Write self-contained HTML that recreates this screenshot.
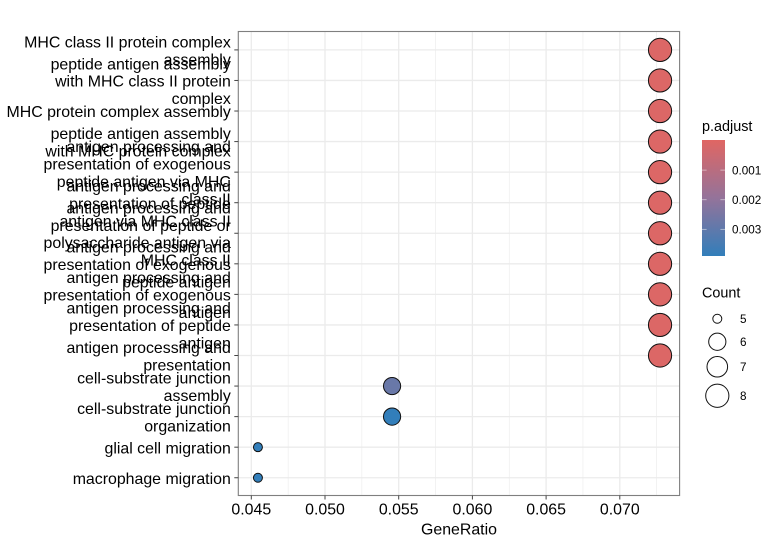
<!DOCTYPE html>
<html>
<head>
<meta charset="utf-8">
<style>
html,body{margin:0;padding:0;background:#fff;width:778px;height:546px;overflow:hidden}
svg{display:block}
text{font-family:"Liberation Sans",sans-serif;fill:#000}
</style>
</head>
<body>
<svg id="chart" xmlns="http://www.w3.org/2000/svg" width="778" height="546" viewBox="0 0 778 546">
<defs>
<linearGradient id="pgrad" x1="0" y1="0" x2="0" y2="1">
<stop offset="0" stop-color="#E06663"/>
<stop offset="0.5" stop-color="#94739A"/>
<stop offset="1" stop-color="#327EBA"/>
</linearGradient>
</defs>
</svg>
<script>
const categories = [
  ["MHC class II protein complex","assembly"],
  ["peptide antigen assembly","with MHC class II protein","complex"],
  ["MHC protein complex assembly"],
  ["peptide antigen assembly","with MHC protein complex"],
  ["antigen processing and","presentation of exogenous","peptide antigen via MHC","class II"],
  ["antigen processing and","presentation of peptide","antigen via MHC class II"],
  ["antigen processing and","presentation of peptide or","polysaccharide antigen via","MHC class II"],
  ["antigen processing and","presentation of exogenous","peptide antigen"],
  ["antigen processing and","presentation of exogenous","antigen"],
  ["antigen processing and","presentation of peptide","antigen"],
  ["antigen processing and","presentation"],
  ["cell-substrate junction","assembly"],
  ["cell-substrate junction","organization"],
  ["glial cell migration"],
  ["macrophage migration"]
];
const geneRatio = [0.07273,0.07273,0.07273,0.07273,0.07273,0.07273,0.07273,0.07273,0.07273,0.07273,0.07273,0.05455,0.05455,0.04545,0.04545];
const counts = [8,8,8,8,8,8,8,8,8,8,8,6,6,5,5];
const pAdjust = [0.0001,0.0001,0.0001,0.0001,0.0001,0.0001,0.0001,0.0001,0.0001,0.0001,0.0001,0.0028,0.0039,0.0039,0.0039];
const xTicks = [0.045,0.050,0.055,0.060,0.065,0.070];
const xMinorTicks = [0.0475,0.0525,0.0575,0.0625,0.0675,0.0725];
const xTickLabels = ["0.045","0.050","0.055","0.060","0.065","0.070"];
const colorTicks = [0.001,0.002,0.003];
const colorTickLabels = ["0.001","0.002","0.003"];
const sizeLegendCounts = [5,6,7,8];

const NS = "http://www.w3.org/2000/svg";
const svg = document.getElementById("chart");
const panel = {l:238.3, r:679.6, t:31.5, b:495.5};

function xScale(v){ return 251.3 + (v - 0.045) * 14740; }
function yScale(i){ return 49.9 + i * 30.56; }
function rScale(c){ return 4.9 + 7.1 * Math.sqrt((c - 5) / 3); }
function colorBarY(p){ return 140.5 + (p / 0.0039) * 115.5; }
function mix(a,b,t){ return a.map(function(v,i){ return Math.round(v + (b[i]-v)*t); }); }
function colorScale(p){
  const t = Math.min(1, Math.max(0, p / 0.0039));
  const low = [224,102,99], mid = [148,115,154], high = [50,126,186];
  const c = t < 0.5 ? mix(low, mid, t*2) : mix(mid, high, (t-0.5)*2);
  return "rgb(" + c.join(",") + ")";
}
function make(tag, attrs){
  const el = document.createElementNS(NS, tag);
  for (const k in attrs) el.setAttribute(k, attrs[k]);
  svg.appendChild(el);
  return el;
}

let el;
el = make("rect",{x:panel.l,y:panel.t,width:panel.r-panel.l,height:panel.b-panel.t,fill:"#fff"});



xMinorTicks.forEach(function(v){
  const g = make("line",{x1:xScale(v),x2:xScale(v),y1:panel.t,y2:panel.b,stroke:"#EDEDED","stroke-width":0.7});
  
  
});
xTicks.forEach(function(v){
  const g = make("line",{x1:xScale(v),x2:xScale(v),y1:panel.t,y2:panel.b,stroke:"#EBEBEB","stroke-width":1.3});
  
  
});
categories.forEach(function(c,i){
  const g = make("line",{x1:panel.l,x2:panel.r,y1:yScale(i),y2:yScale(i),stroke:"#EBEBEB","stroke-width":1.3});
  
  
});

categories.forEach(function(c,i){
  const p = make("circle",{cx:xScale(geneRatio[i]),cy:yScale(i),r:rScale(counts[i])-0.4,fill:colorScale(pAdjust[i]),stroke:"#111","stroke-width":1});
  
  
});

el = make("rect",{x:panel.l,y:panel.t,width:panel.r-panel.l,height:panel.b-panel.t,fill:"none",stroke:"#7F7F7F","stroke-width":1.1});



const lineHeight = 17.4;
categories.forEach(function(lines,i){
  const tick = make("line",{x1:panel.l-4,x2:panel.l,y1:yScale(i),y2:yScale(i),stroke:"#444","stroke-width":1});
  
  
  const t = make("text",{"font-size":15.9,"text-anchor":"end"});
  
  
  const y0 = yScale(i) + 6.2 - (lines.length-1) * lineHeight / 2;
  lines.forEach(function(line,j){
    const s = document.createElementNS(NS,"tspan");
    s.setAttribute("x",230.8);
    s.setAttribute("y",y0 + j*lineHeight);
    s.textContent = line;
    t.appendChild(s);
  });
});

xTicks.forEach(function(v,i){
  const tick = make("line",{x1:xScale(v),x2:xScale(v),y1:panel.b,y2:panel.b+4,stroke:"#444","stroke-width":1});
  
  
  const t = make("text",{x:xScale(v),y:514.5,"font-size":15.9,"text-anchor":"middle"});
  
  
  t.textContent = xTickLabels[i];
});

el = make("text",{x:459,y:534.5,"font-size":15.9,"text-anchor":"middle"});


el.textContent = "GeneRatio";

el = make("text",{x:702,y:130.8,"font-size":14.4});


el.textContent = "p.adjust";

el = make("rect",{x:702,y:140,width:23,height:116,fill:"url(#pgrad)"});



colorTicks.forEach(function(v,i){
  const y = colorBarY(v);
  const a = make("line",{x1:702,x2:706.6,y1:y,y2:y,stroke:"#fff","stroke-opacity":0.6,"stroke-width":0.8});
  
  
  const b = make("line",{x1:720.4,x2:725,y1:y,y2:y,stroke:"#fff","stroke-opacity":0.6,"stroke-width":0.8});
  
  
  const t = make("text",{x:732,y:y+4.2,"font-size":11.7});
  
  
  t.textContent = colorTickLabels[i];
});

el = make("text",{x:702,y:297.5,"font-size":14.4});


el.textContent = "Count";

let legendY = 307.5;
sizeLegendCounts.forEach(function(c){
  const r = rScale(c);
  const key = 22.5 + (c - 5) * (c - 5);
  const cy = legendY + key/2;
  const k = make("circle",{cx:717.3,cy:cy,r:r-0.4,fill:"#fff",stroke:"#111","stroke-width":1});
  
  
  const t = make("text",{x:740,y:cy+4.2,"font-size":11.7});
  
  
  t.textContent = String(c);
  legendY += key;
});
</script>
</body>
</html>
